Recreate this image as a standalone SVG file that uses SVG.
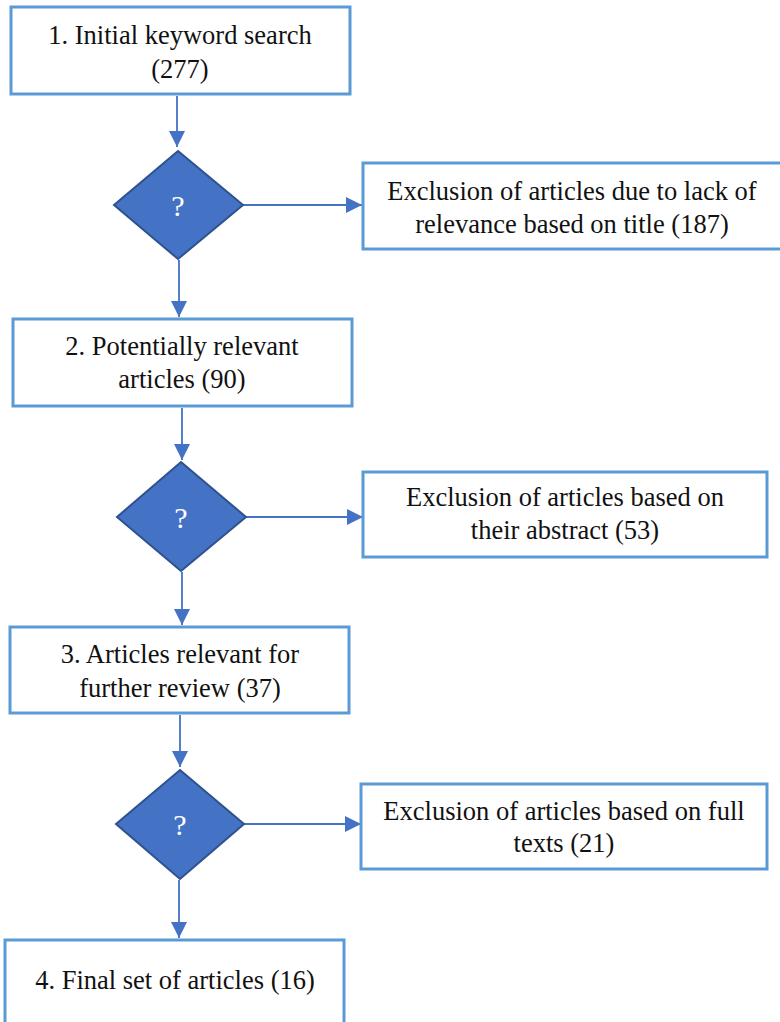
<svg xmlns="http://www.w3.org/2000/svg" width="780" height="1022" viewBox="0 0 780 1022">
  <style>
    .box { fill: #ffffff; stroke: #5B9BD5; stroke-width: 3; }
    .dec { fill: #4472C4; stroke: #2F528F; stroke-width: 2; }
    .lbl { font-family: 'Liberation Serif', 'DejaVu Serif', serif; font-size: 26.5px; fill: #111111; text-anchor: middle; }
    .q { font-family: 'Liberation Serif', 'DejaVu Serif', serif; font-size: 30px; fill: #ffffff; text-anchor: middle; }
    .edge { stroke: #4472C4; stroke-width: 1.8; fill: none; marker-end: url(#arrow); }
  </style>
  <defs>
    <marker id="arrow" viewBox="0 0 10 10" refX="10" refY="5" markerUnits="userSpaceOnUse" markerWidth="16" markerHeight="16" orient="auto">
      <path d="M0,0 L10,5 L0,10 Z" fill="#4472C4"/>
    </marker>
  </defs>

  <!-- flow connectors: main column downwards, exclusions to the right -->
  <g id="connectors">
    <line class="edge" x1="177" y1="96" x2="177" y2="147"/>
    <line class="edge" x1="243" y1="205" x2="362" y2="205"/>
    <line class="edge" x1="179" y1="260" x2="179" y2="317"/>
    <line class="edge" x1="182" y1="408" x2="182" y2="460"/>
    <line class="edge" x1="246" y1="517" x2="363" y2="517"/>
    <line class="edge" x1="182" y1="572" x2="182" y2="625"/>
    <line class="edge" x1="180" y1="715" x2="180" y2="767"/>
    <line class="edge" x1="244" y1="824" x2="361" y2="824"/>
    <line class="edge" x1="179" y1="880" x2="179" y2="938"/>
  </g>

  <g id="n1">
    <rect class="box" x="11" y="7" width="339" height="87"/>
    <text class="lbl" x="180" y="44">1. Initial keyword search</text>
    <text class="lbl" x="180" y="78">(277)</text>
  </g>

  <g id="d1">
    <polygon class="dec" points="178,151 243,205 178,259 114,205"/>
    <text class="q" x="178" y="216">?</text>
  </g>

  <g id="x1">
    <rect class="box" x="363" y="163" width="420" height="86"/>
    <text class="lbl" x="572" y="200">Exclusion of articles due to lack of</text>
    <text class="lbl" x="572" y="233">relevance based on title (187)</text>
  </g>

  <g id="n2">
    <rect class="box" x="13" y="319" width="339" height="87"/>
    <text class="lbl" x="182" y="355">2. Potentially relevant</text>
    <text class="lbl" x="182" y="388">articles (90)</text>
  </g>

  <g id="d2">
    <polygon class="dec" points="181,462 246,517 181,571 117,517"/>
    <text class="q" x="181" y="528">?</text>
  </g>

  <g id="x2">
    <rect class="box" x="363" y="472" width="404" height="85"/>
    <text class="lbl" x="565" y="506">Exclusion of articles based on</text>
    <text class="lbl" x="565" y="539">their abstract (53)</text>
  </g>

  <g id="n3">
    <rect class="box" x="10" y="627" width="339" height="86"/>
    <text class="lbl" x="180" y="663">3. Articles relevant for</text>
    <text class="lbl" x="180" y="697">further review (37)</text>
  </g>

  <g id="d3">
    <polygon class="dec" points="180,770 244,824 180,879 116,824"/>
    <text class="q" x="180" y="835">?</text>
  </g>

  <g id="x3">
    <rect class="box" x="361" y="784" width="406" height="85"/>
    <text class="lbl" x="564" y="820">Exclusion of articles based on full</text>
    <text class="lbl" x="564" y="852">texts (21)</text>
  </g>

  <g id="n4">
    <rect class="box" x="5" y="940" width="339" height="100"/>
    <text class="lbl" x="175" y="989">4. Final set of articles (16)</text>
  </g>
</svg>
